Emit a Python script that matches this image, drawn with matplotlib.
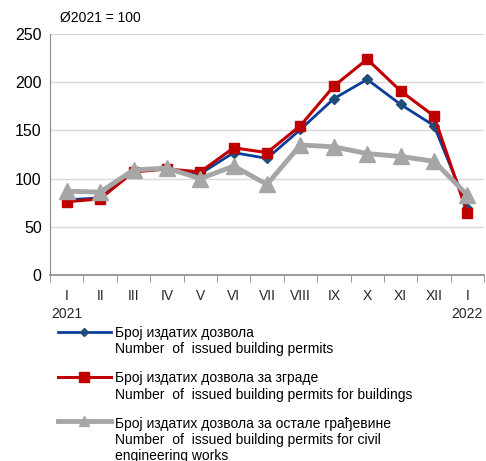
import matplotlib.pyplot as plt
import numpy as np
from matplotlib.legend_handler import HandlerLine2D

plt.rcParams['font.family'] = ['Liberation Sans', 'DejaVu Sans']

months = ['I\n2021', 'II', 'III', 'IV', 'V', 'VI', 'VII', 'VIII', 'IX', 'X', 'XI', 'XII', 'I\n2022']
total = [78, 80, 108, 110, 105, 127, 121, 151, 183, 203, 177, 155, 70]
buildings = [76, 79, 107, 110, 107, 132, 127, 155, 196, 224, 191, 165, 64]
civil = [87, 86, 109, 111, 100, 113, 94, 135, 133, 126, 123, 118, 83]

lab_total = 'Број издатих дозвола\nNumber  of  issued building permits'
lab_build = 'Број издатих дозвола за зграде\nNumber  of  issued building permits for buildings'
lab_civil = ('Број издатих дозвола за остале грађевине\n'
             'Number  of  issued building permits for civil\nengineering works')


class TopHandler(HandlerLine2D):
    # put the legend line next to the first line of a multi-line label
    def __init__(self, shift, ms, **kw):
        super().__init__(**kw)
        self.shift = shift
        self.ms = ms

    def create_artists(self, legend, orig_handle, xdescent, ydescent,
                       width, height, fontsize, trans):
        arts = super().create_artists(legend, orig_handle, xdescent,
                                      ydescent - self.shift, width, height,
                                      fontsize, trans)
        arts[-1].set_markersize(self.ms)
        return arts


fig = plt.figure(figsize=(4.86, 4.61), dpi=100)
ax = fig.add_axes([0.103, 0.4035, 0.893, 0.5225])

x = np.arange(len(months))
l1, = ax.plot(x, total, color='#0B3D9A', lw=2.0, marker='D', ms=5,
              mfc='#1F4E79', mec='#1F4E79', zorder=3)
l2, = ax.plot(x, buildings, color='#C00000', lw=2.2, marker='s', ms=7,
              zorder=4)
l3, = ax.plot(x, civil, color='#A6A6A6', lw=3.5, marker='^', ms=11,
              zorder=5)

ax.set_xlim(-0.5, len(months) - 0.5)
ax.set_ylim(0, 250)
ax.set_yticks([0, 50, 100, 150, 200, 250])
ax.set_xticks(x)
ax.set_xticklabels(months, fontsize=10, color='#262626')
ax.set_xticks(np.arange(-0.5, len(months)), minor=True)
ax.tick_params(axis='x', which='major', length=0, pad=10)
ax.tick_params(axis='x', which='minor', length=5, color='#898989')
ax.tick_params(axis='y', length=0, labelsize=11.5, pad=6)
for lbl in ax.get_xticklabels():
    lbl.set_linespacing(1.35)

ax.grid(axis='y', color='#D9D9D9', lw=1)
ax.set_axisbelow(True)
for s in ['top', 'right']:
    ax.spines[s].set_visible(False)
ax.spines['left'].set_color('#898989')
ax.spines['bottom'].set_color('#898989')
ax.spines['bottom'].set_linewidth(1.2)

fig.text(0.123, 0.962, 'Ø2021 = 100', fontsize=10, va='center', ha='left')

fig.legend([l1, l2, l3], [lab_total, lab_build, lab_civil],
           loc='upper left', bbox_to_anchor=(0.108, 0.305), frameon=False,
           fontsize=10, handlelength=3.8, handletextpad=0.3,
           labelspacing=1.1, borderaxespad=0,
           handler_map={l1: TopHandler(14, 4.5), l2: TopHandler(14, 6.5),
                        l3: TopHandler(28, 6.5)})

plt.savefig('out.png', dpi=100)
